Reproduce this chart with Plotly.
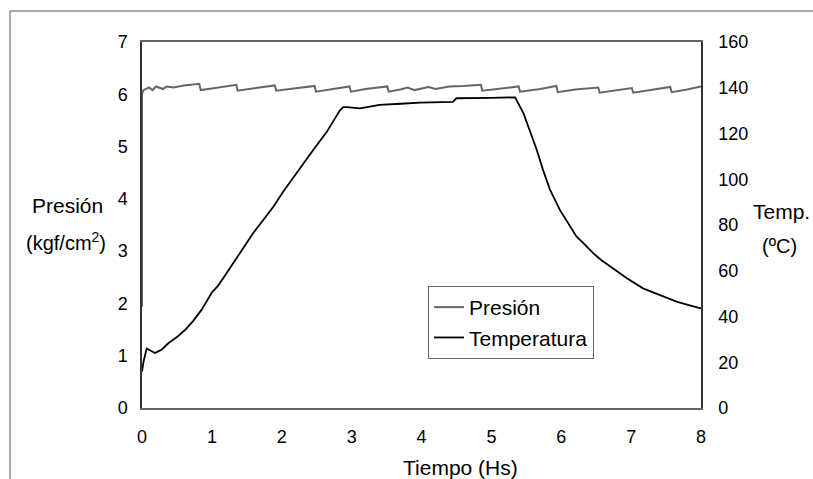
import plotly.graph_objects as go

# Pressure (kgf/cm2) vs time (h)
pres_t = [0, 0, 0.02, 0.1, 0.15, 0.2, 0.3, 0.35, 0.45, 0.6, 0.82, 0.84, 1.0, 1.2, 1.35, 1.37,
          1.6, 1.9, 1.92, 2.2, 2.47, 2.49, 2.7, 2.97, 2.99, 3.2, 3.51, 3.53, 3.7, 3.8, 3.9,
          4.1, 4.2, 4.4, 4.6, 4.85, 4.87, 5.1, 5.39, 5.41, 5.7, 5.93, 5.95, 6.2, 6.53, 6.55,
          6.8, 7.01, 7.03, 7.3, 7.56, 7.58, 7.8, 8.0]
pres_v = [1.94, 6.0, 6.08, 6.13, 6.08, 6.15, 6.1, 6.15, 6.13, 6.17, 6.2, 6.08, 6.11, 6.15, 6.18, 6.07,
          6.11, 6.17, 6.07, 6.12, 6.16, 6.05, 6.1, 6.15, 6.05, 6.1, 6.15, 6.05, 6.09, 6.13, 6.08,
          6.14, 6.1, 6.15, 6.16, 6.18, 6.07, 6.11, 6.15, 6.05, 6.1, 6.16, 6.04, 6.09, 6.13, 6.03,
          6.08, 6.12, 6.03, 6.09, 6.14, 6.04, 6.09, 6.15]

# Temperature (ºC) vs time (h)
temp_t = [0, 0.02, 0.067, 0.12, 0.186, 0.28, 0.377, 0.5, 0.615, 0.73, 0.854, 1.0, 1.09, 1.2,
          1.31, 1.45, 1.59, 1.73, 1.88, 2.02, 2.17, 2.31, 2.45, 2.64, 2.83, 2.88, 2.93, 3.12,
          3.4, 3.7, 3.98, 4.45, 4.5, 5.0, 5.34, 5.46, 5.55, 5.65, 5.74, 5.84, 5.98, 6.13, 6.22,
          6.32, 6.46, 6.58, 6.70, 6.94, 7.17, 7.41, 7.65, 7.85, 8.0]
temp_v = [16, 20, 26, 25, 24, 25.5, 28.3, 31, 34.1, 38, 43, 50.5, 53.5, 58.5,
          63.5, 70, 76.4, 82, 88, 94.5, 101, 107, 112.8, 120.5, 130, 131.5, 131.5, 131,
          132.5, 133, 133.5, 133.8, 135.4, 135.6, 135.8, 128.8, 121.5, 112.8, 104, 95.3, 86.6, 79.3, 74.9,
          72.0, 67.6, 64.5, 61.8, 56.7, 52.3, 49.4, 46.5, 44.8, 43.5]

x_ticks = [0, 1, 2, 3, 4, 5, 6, 7, 8]

FONT = "Liberation Sans, Arial, sans-serif"
W, H = 813, 479
L, R, T, B = 142, 112, 42, 71
PW, PH = W - L - R, H - T - B


def px(x):
    return (x - L) / PW


def py(y):
    return (H - B - y) / PH


fig = go.Figure()
fig.add_trace(go.Scatter(x=pres_t, y=pres_v, mode="lines", name="Presión",
                         line=dict(color="#666666", width=2), yaxis="y"))
fig.add_trace(go.Scatter(x=temp_t, y=temp_v, mode="lines", name="Temperatura",
                         line=dict(color="#000000", width=1.8), yaxis="y2"))

fig.update_layout(
    width=W, height=H,
    margin=dict(l=L, r=R, t=T, b=B),
    paper_bgcolor="white", plot_bgcolor="white",
    font=dict(family=FONT, size=18, color="black"),
    showlegend=True,
    legend=dict(x=px(428), y=py(286), xanchor="left", yanchor="top",
                bordercolor="#666666", borderwidth=1, bgcolor="white",
                font=dict(size=21), tracegroupgap=0),
    xaxis=dict(range=[0, 8], tickvals=x_ticks, showgrid=False, zeroline=False,
               showline=True, linecolor="#666666", linewidth=1.5, mirror=True,
               ticks="", ticklabelstandoff=12),
    yaxis=dict(range=[0, 7], dtick=1, showgrid=False, zeroline=False,
               showline=True, linecolor="#333333", linewidth=1.5,
               ticks="", ticklabelstandoff=9),
    yaxis2=dict(range=[0, 160], dtick=20, overlaying="y", side="right",
                showgrid=False, zeroline=False, showline=True,
                linecolor="#333333", linewidth=1.5, ticks="", ticklabelstandoff=12),
    shapes=[
        dict(type="line", xref="paper", yref="paper",
             x0=px(10), x1=px(813), y0=py(11), y1=py(11),
             line=dict(color="#555555", width=1)),
        dict(type="line", xref="paper", yref="paper",
             x0=px(10), x1=px(10), y0=py(11), y1=py(480),
             line=dict(color="#555555", width=1)),
    ],
    annotations=[
        dict(text="Presión", xref="paper", yref="paper",
             x=px(67), y=py(205), showarrow=False,
             xanchor="center", yanchor="middle", font=dict(size=21)),
        dict(text="(kgf/cm<sup>2</sup>)", xref="paper", yref="paper",
             x=px(66), y=py(241), showarrow=False,
             xanchor="center", yanchor="middle", font=dict(size=20)),
        dict(text="Temp.", xref="paper", yref="paper",
             x=px(781), y=py(212), showarrow=False,
             xanchor="center", yanchor="middle", font=dict(size=21)),
        dict(text="(ºC)", xref="paper", yref="paper",
             x=px(779), y=py(246), showarrow=False,
             xanchor="center", yanchor="middle", font=dict(size=20)),
        dict(text="Tiempo (Hs)", xref="paper", yref="paper",
             x=px(460), y=py(467), showarrow=False,
             xanchor="center", yanchor="middle", font=dict(size=21)),
    ],
)

fig.write_html("out.html", config={"displayModeBar": False},
               post_script="document.body.style.margin='0';document.body.style.overflow='hidden';")
